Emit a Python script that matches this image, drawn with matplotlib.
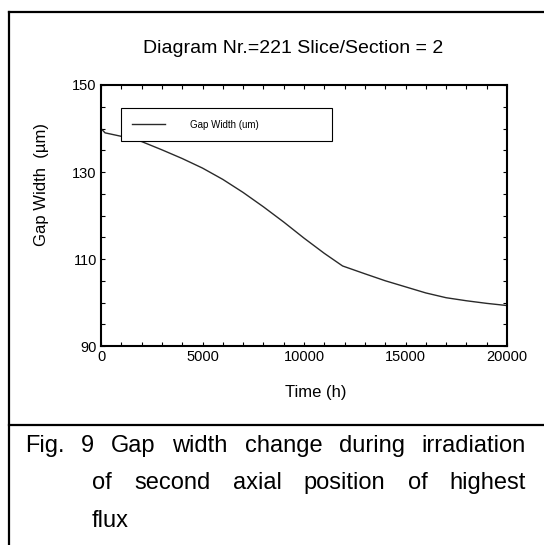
import numpy as np
import matplotlib
matplotlib.use("Agg")
import matplotlib.pyplot as plt
from matplotlib.lines import Line2D

plt.rcParams['font.family'] = ['Liberation Sans', 'DejaVu Sans']

# data
time_h = [0, 200, 1000, 2000, 3000, 4000, 5000, 6000, 7000, 8000, 9000,
          10000, 11000, 11900, 13000, 14000, 15000, 16000, 17000, 18000, 19000, 20000]
gap_um = [140.0, 139.0, 138.2, 137.0, 135.1, 133.1, 130.9, 128.3, 125.3, 122.0, 118.5,
          114.8, 111.3, 108.4, 106.6, 105.0, 103.6, 102.2, 101.1, 100.4, 99.8, 99.3]

title = "Diagram Nr.=221 Slice/Section = 2"
caption_lines = [
    ("Fig. 9 Gap width change during irradiation", 25, 452, True),
    ("of second axial position of highest", 92, 489, True),
    ("flux", 92, 527, False),
]

W, H = 544, 545
fig = plt.figure(figsize=(W / 100, H / 100), dpi=100)

def fx(px):
    return px / W

def fy(py):
    return 1 - py / H

# outer frame lines
fig.add_artist(Line2D([fx(8.5), fx(8.5)], [fy(12), 0], color='black', lw=1.6))
fig.add_artist(Line2D([fx(8.5), 1], [fy(12), fy(12)], color='black', lw=1.6))
fig.add_artist(Line2D([fx(8.5), 1], [fy(425), fy(425)], color='black', lw=1.6))

ax = fig.add_axes([fx(101), fy(346), fx(406), 261 / H])
ax.plot(time_h, gap_um, color='#2a2a2a', lw=1.0, label='Gap Width (um)')
ax.set_xlim(0, 20000)
ax.set_ylim(90, 150)
ax.set_xticks([0, 5000, 10000, 15000, 20000])
ax.set_yticks([90, 110, 130, 150])
ax.set_xticks(np.arange(0, 20001, 1000), minor=True)
ax.set_yticks(np.arange(90, 151, 5), minor=True)
ax.tick_params(which='both', direction='in', top=True, right=True,
               length=3, width=0.8, labelsize=10.5, pad=3)
for s in ax.spines.values():
    s.set_linewidth(1.5)

ax.set_xlabel("Time (h)", fontsize=12)
ax.xaxis.set_label_coords(0.53, -0.15)
ax.set_ylabel("Gap Width  (µm)", fontsize=12)
ax.yaxis.set_label_coords(-0.127, 0.62)

leg = ax.legend(loc='center left', bbox_to_anchor=(0.049, 0.785, 0.52, 0.127),
                mode='expand', fontsize=7, frameon=True, fancybox=False,
                borderpad=1.15, handlelength=3.4, handletextpad=2.6,
                borderaxespad=0)
leg.get_frame().set_edgecolor('black')
leg.get_frame().set_linewidth(0.8)
leg.get_frame().set_alpha(1)

fig.text(fx(143), fy(53), title, fontsize=14, ha='left', va='baseline')

# justified caption
renderer = fig.canvas.get_renderer()
right_edge = 526
for line, x0, base, justify in caption_lines:
    y = fy(base)
    words = line.split()
    if not justify:
        fig.text(fx(x0), y, line, fontsize=17, ha='left', va='baseline')
        continue
    texts = [fig.text(0, y, w, fontsize=17, ha='left', va='baseline') for w in words]
    widths = [t.get_window_extent(renderer).width for t in texts]
    gap = (right_edge - x0 - sum(widths)) / (len(words) - 1)
    x = x0
    for t, w in zip(texts, widths):
        t.set_x(fx(x))
        x += w + gap

fig.savefig("out.png", dpi=100)
